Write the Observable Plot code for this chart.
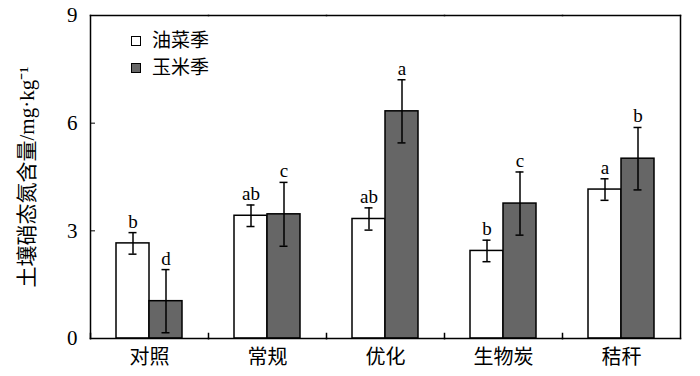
<!DOCTYPE html>
<html><head><meta charset="utf-8">
<script src="https://cdn.jsdelivr.net/npm/d3@7"></script>
<script src="https://cdn.jsdelivr.net/npm/@observablehq/plot@0.6"></script>
<style>
body{margin:0;background:#fff}
#wrap{position:relative;width:700px;height:376px}
.legend{position:absolute;left:131px;top:27px;font-family:"Liberation Serif","Noto Sans CJK SC",serif;font-size:19px;line-height:27px;color:#000}
.legend div{display:flex;align-items:center}
.sw{width:8px;height:8px;border:1.5px solid #000;margin-right:11px}
</style></head><body><div id="wrap"></div>
<script>
const categories = ["对照","常规","优化","生物炭","秸秆"];
const series = ["油菜季","玉米季"];
const rapeMean = [2.65, 3.42, 3.33, 2.44, 4.15];
const rapeSd = [0.30, 0.30, 0.31, 0.30, 0.30];
const maizeMean = [1.04, 3.46, 6.33, 3.76, 5.01];
const maizeSd = [0.88, 0.89, 0.88, 0.88, 0.87];
const rapeLetters = ["b","ab","ab","b","a"];
const maizeLetters = ["d","c","a","c","b"];
const yTicks = [0, 3, 6, 9];
const colors = ["#ffffff", "#666666"];
const yLabel = "土壤硝态氮含量/mg·kg⁻¹";

const rows = [];
categories.forEach((c, i) => {
  rows.push({cat: c, season: series[0], mean: rapeMean[i], sd: rapeSd[i], letter: rapeLetters[i]});
  rows.push({cat: c, season: series[1], mean: maizeMean[i], sd: maizeSd[i], letter: maizeLetters[i]});
});

const W = 700, H = 376, mT = 15, mB = 38, mL = 88, mR = 18;
const font = '"Liberation Serif","Noto Sans CJK SC",serif';

const chart = Plot.plot({
  width: W, height: H, marginLeft: mL, marginRight: mR, marginTop: mT, marginBottom: mB,
  style: {fontFamily: font, fontSize: "19px", background: "#fff", color: "#000"},
  fx: {domain: categories, padding: 0, label: null},
  x: {domain: series, paddingInner: 0, paddingOuter: 0.75, axis: null},
  y: {domain: [0, 9]},
  color: {domain: series, range: colors},
  marks: [
    Plot.barY(rows, {fx: "cat", x: "season", y: "mean", fill: "season", stroke: "#000", strokeWidth: 1.5}),
    Plot.ruleX(rows, {fx: "cat", x: "season", y1: d => d.mean - d.sd, y2: d => d.mean + d.sd, stroke: "#000", strokeWidth: 1.5}),
    Plot.tickY(rows, {fx: "cat", x: "season", y: d => d.mean + d.sd, insetLeft: 12.5, insetRight: 12.5, stroke: "#000", strokeWidth: 1.5}),
    Plot.tickY(rows, {fx: "cat", x: "season", y: d => d.mean - d.sd, insetLeft: 12.5, insetRight: 12.5, stroke: "#000", strokeWidth: 1.5}),
    Plot.text(rows, {fx: "cat", x: "season", y: d => d.mean + d.sd, text: "letter", lineAnchor: "bottom", dy: -5, fontSize: 19, fill: "#000"}),
    Plot.axisY({ticks: yTicks, tickSize: -5, tickPadding: 18, label: yLabel, labelArrow: "none", labelAnchor: "center", labelOffset: 71, fontSize: 21, fill: "#000"}),
    Plot.axisFx({anchor: "bottom", tickSize: 0, tickPadding: 11, label: null, fontSize: 20, fill: "#000"}),
    Plot.frame({anchor: "left", facetAnchor: "left", strokeWidth: 1.5}),
    Plot.frame({anchor: "right", facetAnchor: "right", strokeWidth: 1.5}),
    Plot.frame({anchor: "top", strokeWidth: 1.5}),
    Plot.frame({anchor: "bottom", strokeWidth: 1.5}),
    Plot.frame({anchor: "left", insetTop: H - mT - mB - 5, strokeWidth: 1.5})
  ]
});
const wrap = document.getElementById("wrap");
wrap.appendChild(chart);
const leg = document.createElement("div");
leg.className = "legend";
series.forEach((s, i) => {
  const row = document.createElement("div");
  const sw = document.createElement("span");
  sw.className = "sw";
  sw.style.background = colors[i];
  row.appendChild(sw);
  row.appendChild(document.createTextNode(s));
  leg.appendChild(row);
});
wrap.appendChild(leg);
</script>
</body></html>
